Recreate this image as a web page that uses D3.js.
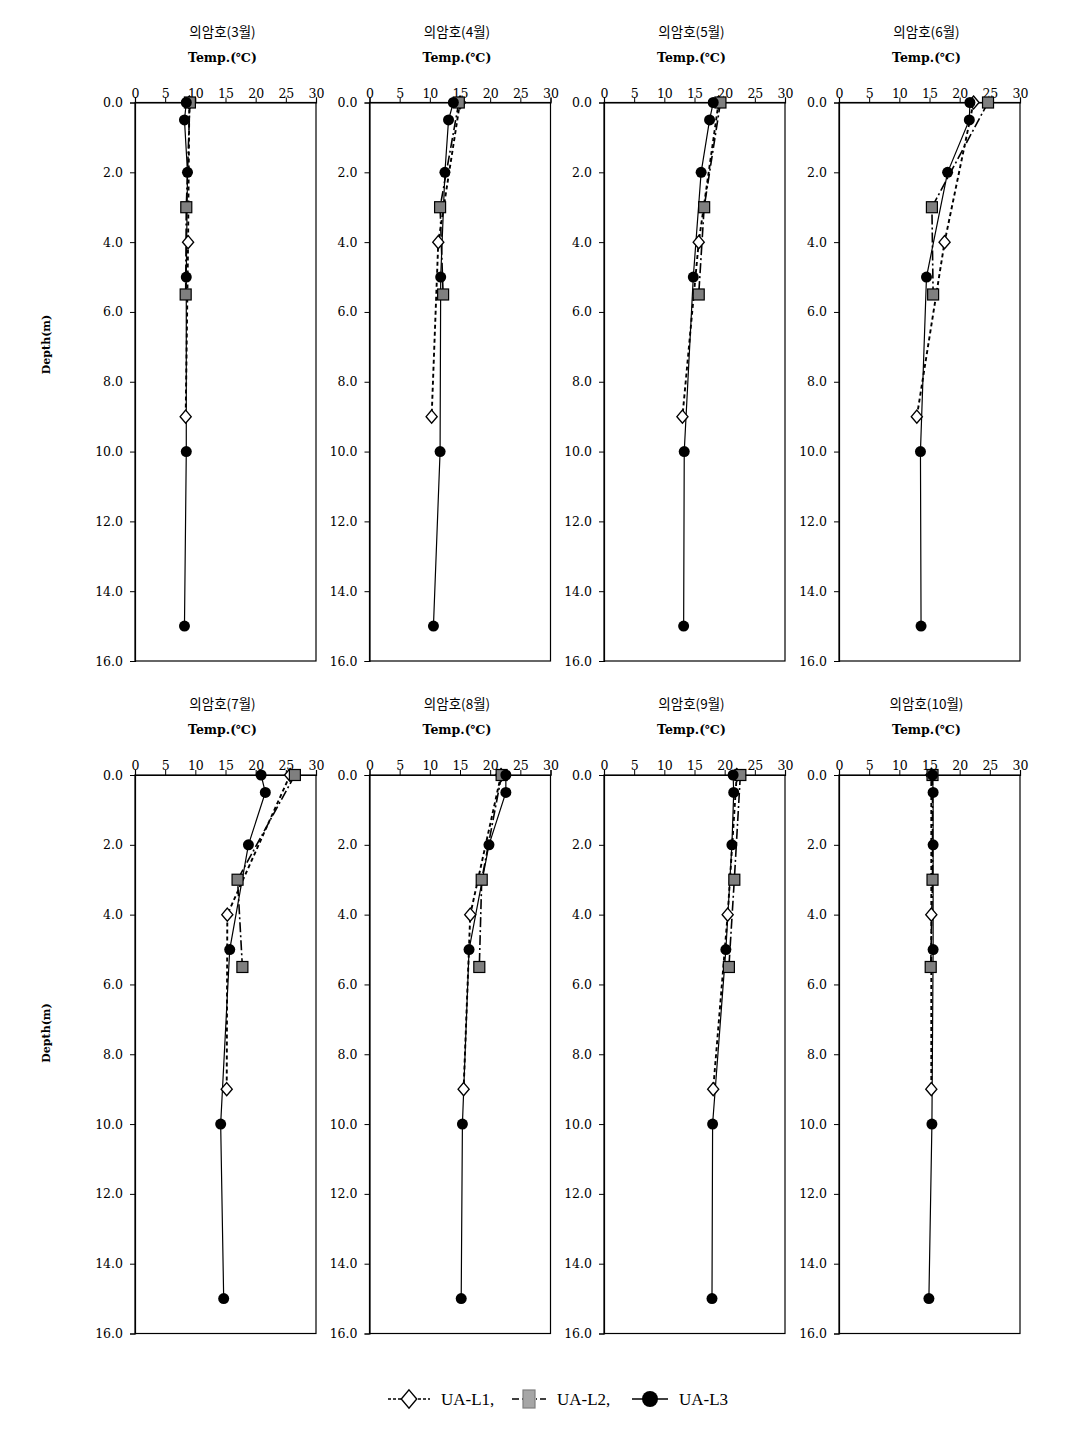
<!DOCTYPE html>
<html>
<head>
<meta charset="utf-8">
<script src="https://cdn.jsdelivr.net/npm/d3@7"></script>
<style>
  body { margin: 0; background: #fff; }
  .tick text { font-family: "DejaVu Serif", serif; font-size: 12.5px; fill: #000; }
</style>
</head>
<body>
<div id="chart"></div>
<script>
// months shown in the panels
const months = ["3월", "4월", "5월", "6월", "7월", "8월", "9월", "10월"];

// sampling depths (m) for each station
const depthL1 = [0, 4, 9];
const depthL2 = [0, 3, 5.5];
const depthL3 = [0, 0.5, 2, 5, 10, 15];

// water temperature (°C), one row per month
const tempL1 = [
  [9.0, 8.8, 8.4],
  [15.0, 11.4, 10.3],
  [19.0, 15.7, 13.0],
  [22.3, 17.5, 12.9],
  [25.7, 15.3, 15.2],
  [21.8, 16.7, 15.6],
  [22.0, 20.5, 18.1],
  [15.3, 15.3, 15.3]
];
const tempL2 = [
  [9.1, 8.5, 8.4],
  [14.8, 11.7, 12.2],
  [19.3, 16.6, 15.7],
  [24.7, 15.4, 15.6],
  [26.5, 17.0, 17.8],
  [21.9, 18.6, 18.2],
  [22.6, 21.6, 20.7],
  [15.5, 15.5, 15.2]
];
const tempL3 = [
  [8.5, 8.2, 8.7, 8.5, 8.5, 8.2],
  [13.9, 13.1, 12.5, 11.8, 11.7, 10.6],
  [18.1, 17.5, 16.1, 14.8, 13.3, 13.2],
  [21.7, 21.6, 18.0, 14.5, 13.5, 13.6],
  [20.9, 21.6, 18.8, 15.7, 14.2, 14.7],
  [22.6, 22.6, 19.8, 16.5, 15.4, 15.2],
  [21.4, 21.5, 21.2, 20.2, 18.0, 17.9],
  [15.5, 15.6, 15.6, 15.6, 15.4, 14.9]
];

const xTicks = [0, 5, 10, 15, 20, 25, 30];
const yTicks = [0, 2, 4, 6, 8, 10, 12, 14, 16];

const W = 1077, H = 1429;
const panelW = 181, panelH = 558.5;
const colX = [135, 369.5, 604, 839];
const rowY = [102.5, 775];

const svg = d3.select("#chart").append("svg")
  .attr("width", W).attr("height", H)
  .style("font-family", "'DejaVu Serif', serif");

const x = d3.scaleLinear().domain([0, 30]).range([0, panelW]);
const y = d3.scaleLinear().domain([0, 16]).range([0, panelH]);

const series = [
  { name: "UA-L1,", depth: depthL1, temp: tempL1, dash: "4,3", width: 1.9, marker: "diamond" },
  { name: "UA-L2,", depth: depthL2, temp: tempL2, dash: "10,3,2,3", width: 1.6, marker: "square" },
  { name: "UA-L3", depth: depthL3, temp: tempL3, dash: null, width: 1.2, marker: "circle" }
];

function drawMarker(g, type, cx, cy, big) {
  const s = big ? 1.4 : 1;
  if (type === "diamond") {
    const r = 6.5 * s;
    g.append("path")
      .attr("d", `M${cx},${cy - r}L${cx + r * 0.85},${cy}L${cx},${cy + r}L${cx - r * 0.85},${cy}Z`)
      .attr("fill", "#fff").attr("stroke", "#000").attr("stroke-width", 1.4);
  } else if (type === "square") {
    const w = big ? 12 : 11, h = big ? 18 : 11;
    g.append("rect")
      .attr("x", cx - w / 2).attr("y", cy - h / 2)
      .attr("width", w).attr("height", h)
      .attr("fill", big ? "#a6a6a6" : "#7f7f7f")
      .attr("stroke", big ? "#7f7f7f" : "#000").attr("stroke-width", 1.2);
  } else {
    g.append("circle").attr("cx", cx).attr("cy", cy)
      .attr("r", big ? 8 : 5.5).attr("fill", "#000");
  }
}

months.forEach((m, i) => {
  const col = i % 4, row = Math.floor(i / 4);
  const g = svg.append("g")
    .attr("transform", `translate(${colX[col]},${rowY[row]})`);

  // titles
  g.append("text")
    .attr("x", panelW / 2 - 3).attr("y", -66)
    .attr("text-anchor", "middle")
    .style("font-family", "'Noto Sans CJK KR', sans-serif")
    .style("font-size", "13.5px")
    .text(`의암호(${m})`);
  g.append("text")
    .attr("x", panelW / 2 - 3).attr("y", -41)
    .attr("text-anchor", "middle")
    .style("font-size", "12.5px").style("font-weight", "bold")
    .text("Temp.(℃)");

  // frame
  g.append("rect")
    .attr("width", panelW).attr("height", panelH)
    .attr("fill", "none").attr("stroke", "#000").attr("stroke-width", 1.2);

  // axes
  const xa = g.append("g")
    .call(d3.axisTop(x).tickValues(xTicks).tickSize(5).tickPadding(0));
  const ya = g.append("g")
    .call(d3.axisLeft(y).tickValues(yTicks).tickSize(5).tickPadding(7)
      .tickFormat(d3.format(".1f")));
  [xa, ya].forEach(a => {
    a.select(".domain").attr("stroke", "#000").attr("stroke-width", 1.2);
    a.selectAll(".tick line").attr("stroke", "#000");
  });

  if (col === 0) {
    g.append("text")
      .attr("transform", `translate(${50 - colX[0]},${[242, 258][row]}) rotate(-90)`)
      .attr("text-anchor", "middle")
      .style("font-size", "11px").style("font-weight", "bold")
      .text("Depth(m)");
  }

  // lines and markers
  series.forEach(s => {
    const pts = s.depth.map((d, k) => ({ d: d, t: s.temp[i][k] }));
    const line = d3.line().x(p => x(p.t)).y(p => y(p.d));
    g.append("path").datum(pts)
      .attr("d", line)
      .attr("fill", "none").attr("stroke", "#000")
      .attr("stroke-width", s.width)
      .attr("stroke-dasharray", s.dash);
  });
  series.forEach(s => {
    s.depth.forEach((d, k) => drawMarker(g, s.marker, x(s.temp[i][k]), y(d), false));
  });
});

// legend
const legend = svg.append("g").attr("transform", "translate(0,1399)");
const legendX = [388, 512, 632];
const legendLen = [42, 34, 36];
series.forEach((s, k) => {
  const x0 = legendX[k];
  legend.append("line")
    .attr("x1", x0).attr("x2", x0 + legendLen[k])
    .attr("stroke", "#000").attr("stroke-width", 1.3)
    .attr("stroke-dasharray", s.dash ? (k === 0 ? "3,2" : "7,3,1,3") : null);
  drawMarker(legend, s.marker, x0 + legendLen[k] / 2, 0, true);
  legend.append("text")
    .attr("x", x0 + legendLen[k] + 11).attr("y", 6)
    .style("font-family", "'Liberation Serif', serif")
    .style("font-size", "17px")
    .text(s.name);
});
</script>
</body>
</html>
